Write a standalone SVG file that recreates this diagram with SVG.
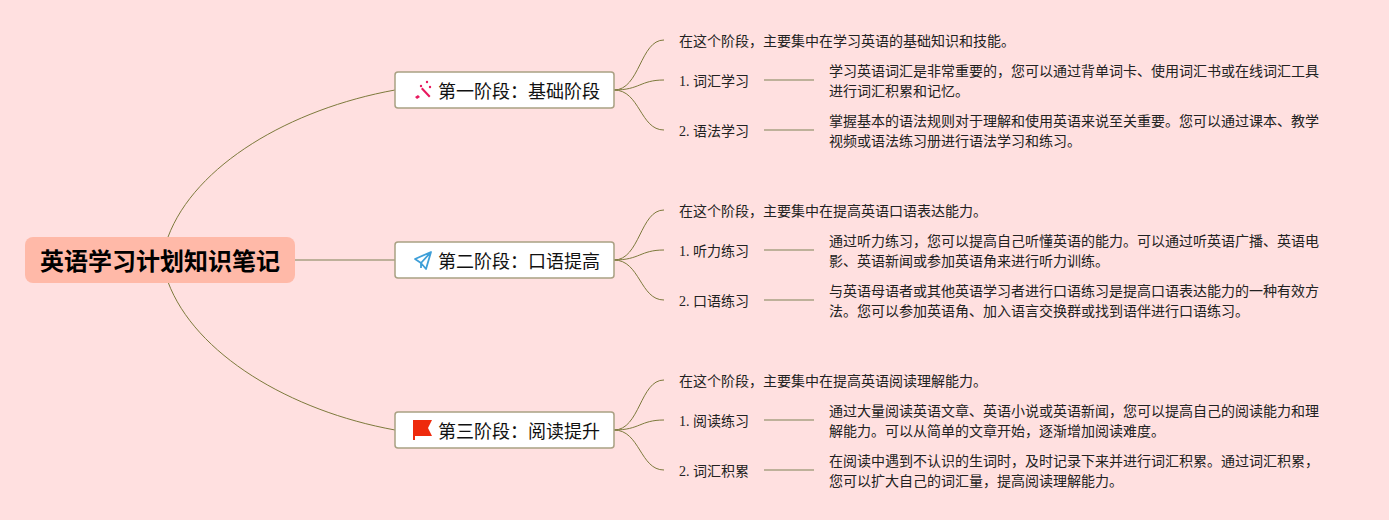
<svg xmlns="http://www.w3.org/2000/svg" width="1389" height="520" viewBox="0 0 1389 520">
<style>
text{font-family:"Noto Sans CJK SC","Liberation Sans",sans-serif;fill:#222}
.root{font-size:24px;font-weight:700;fill:#000}
.main{font-size:18px;fill:#111}
.leaf{font-size:14px}
.num{font-family:"Liberation Serif","Noto Sans CJK SC",serif}
.box{fill:#fff;stroke:#a9a183;stroke-width:1.5}
.c{fill:none;stroke:#7d7a3c;stroke-width:1}
.s{fill:none;stroke:#a9a183;stroke-width:1.5}
</style>
<rect width="1389" height="520" fill="#ffe0e0"/>
<g id="connectors">
<path class="c" d="M168 237C195 165 290 109 395 90"/>
<path class="c" d="M168 282C195 354 290 411 395 430"/>
<path class="s" d="M295 260H395"/>
<g id="c1">
<path class="c" d="M614 90C640 90 640 40 664 40"/>
<path class="c" d="M614 90C640 90 640 80 664 80"/>
<path class="c" d="M614 90C640 90 640 130 664 130"/>
<path class="s" d="M764 80H814M764 130H814"/>
</g>
<g id="c2">
<path class="c" d="M614 260C640 260 640 210 664 210"/>
<path class="c" d="M614 260C640 260 640 250 664 250"/>
<path class="c" d="M614 260C640 260 640 300 664 300"/>
<path class="s" d="M764 250H814M764 300H814"/>
</g>
<g id="c3">
<path class="c" d="M614 430C640 430 640 380 664 380"/>
<path class="c" d="M614 430C640 430 640 420 664 420"/>
<path class="c" d="M614 430C640 430 640 470 664 470"/>
<path class="s" d="M764 420H814M764 470H814"/>
</g>
</g>
<g id="root"><rect x="25" y="237" width="270" height="46" rx="8" fill="#ffb9a8"/><text class="root" x="160" y="270" text-anchor="middle">英语学习计划知识笔记</text></g>
<g id="n1"><rect class="box" x="395" y="72" width="219" height="36" rx="3"/>
<g fill="#e8195f"><path d="M415 97l3-2 2 2-3 2zM421 89l1.500-1.500 8 8.500-1.500 1.500z"/><circle cx="421" cy="86" r="1.200"/><circle cx="430" cy="87" r="1.200"/><circle cx="427" cy="82" r="1.200"/></g>
<text class="main" x="438" y="98">第一阶段&#xFF1A;基础阶段</text></g>
<g id="n2"><rect class="box" x="395" y="242" width="219" height="36" rx="3"/>
<path d="M415 259L431 252L426 269L421 263ZM431 252L421 263L421 268" fill="none" stroke="#3e9fd8" stroke-width="1.800" stroke-linejoin="round"/>
<text class="main" x="438" y="268">第二阶段&#xFF1A;口语提高</text></g>
<g id="n3"><rect class="box" x="395" y="412" width="219" height="36" rx="3"/>
<path d="M413 420H432L428 428L432 436H415V440H413Z" fill="#ee2a0c"/>
<text class="main" x="438" y="438">第三阶段&#xFF1A;阅读提升</text></g>
<g id="l10"><text class="leaf" x="679" y="46">在这个阶段&#xFF0C;主要集中在学习英语的基础知识和技能。</text></g>
<g id="l11"><text class="leaf num" x="679" y="86">1. 词汇学习</text></g>
<g id="l11d"><text class="leaf" x="829" y="76">学习英语词汇是非常重要的&#xFF0C;您可以通过背单词卡、使用词汇书或在线词汇工具</text><text class="leaf" x="829" y="96">进行词汇积累和记忆。</text></g>
<g id="l12"><text class="leaf num" x="679" y="136">2. 语法学习</text></g>
<g id="l12d"><text class="leaf" x="829" y="126">掌握基本的语法规则对于理解和使用英语来说至关重要。您可以通过课本、教学</text><text class="leaf" x="829" y="146">视频或语法练习册进行语法学习和练习。</text></g>
<g id="l20"><text class="leaf" x="679" y="216">在这个阶段&#xFF0C;主要集中在提高英语口语表达能力。</text></g>
<g id="l21"><text class="leaf num" x="679" y="256">1. 听力练习</text></g>
<g id="l21d"><text class="leaf" x="829" y="246">通过听力练习&#xFF0C;您可以提高自己听懂英语的能力。可以通过听英语广播、英语电</text><text class="leaf" x="829" y="266">影、英语新闻或参加英语角来进行听力训练。</text></g>
<g id="l22"><text class="leaf num" x="679" y="306">2. 口语练习</text></g>
<g id="l22d"><text class="leaf" x="829" y="296">与英语母语者或其他英语学习者进行口语练习是提高口语表达能力的一种有效方</text><text class="leaf" x="829" y="316">法。您可以参加英语角、加入语言交换群或找到语伴进行口语练习。</text></g>
<g id="l30"><text class="leaf" x="679" y="386">在这个阶段&#xFF0C;主要集中在提高英语阅读理解能力。</text></g>
<g id="l31"><text class="leaf num" x="679" y="426">1. 阅读练习</text></g>
<g id="l31d"><text class="leaf" x="829" y="416">通过大量阅读英语文章、英语小说或英语新闻&#xFF0C;您可以提高自己的阅读能力和理</text><text class="leaf" x="829" y="436">解能力。可以从简单的文章开始&#xFF0C;逐渐增加阅读难度。</text></g>
<g id="l32"><text class="leaf num" x="679" y="476">2. 词汇积累</text></g>
<g id="l32d"><text class="leaf" x="829" y="466">在阅读中遇到不认识的生词时&#xFF0C;及时记录下来并进行词汇积累。通过词汇积累&#xFF0C;</text><text class="leaf" x="829" y="486">您可以扩大自己的词汇量&#xFF0C;提高阅读理解能力。</text></g>
</svg>
